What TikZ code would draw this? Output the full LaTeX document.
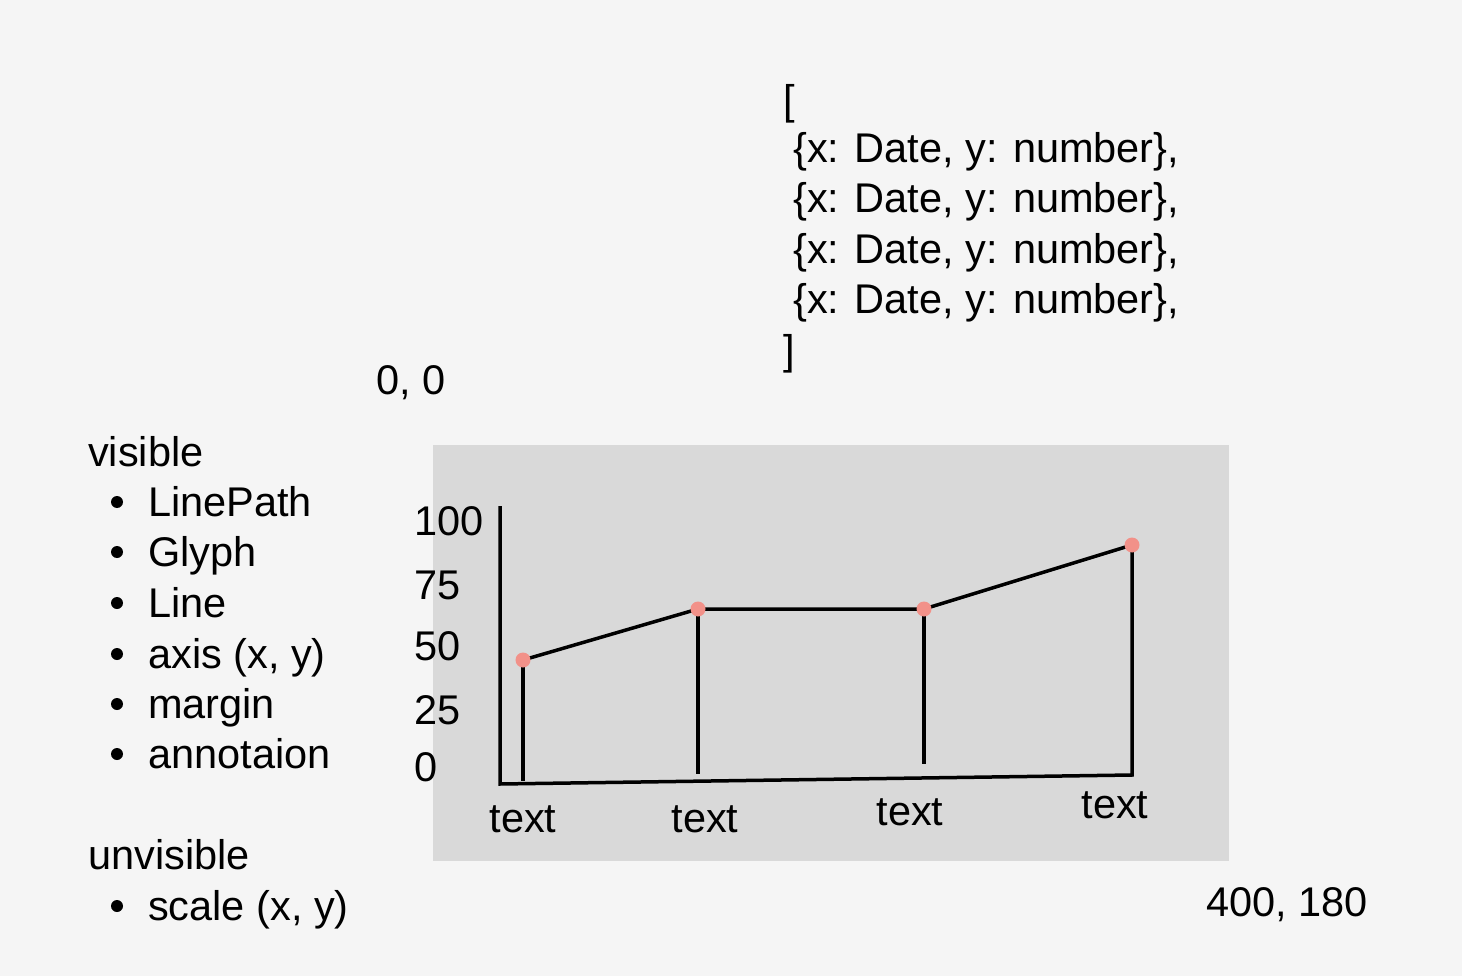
\documentclass[tikz,border=0pt]{standalone}
\usepackage{fontspec}
\setmainfont{Liberation Sans}
\usetikzlibrary{positioning}
\definecolor{PageGrey}{HTML}{F5F5F5}
\definecolor{PlotGrey}{HTML}{D9D9D9}
\definecolor{DotPink}{HTML}{F29189}

\begin{document}
\begin{tikzpicture}[x=1pt,y=-1pt,
  lbl/.style={inner sep=0pt,font=\fontsize{41.5}{48}\selectfont,text height=29pt,text depth=0pt},
  item/.style={lbl,anchor=west},
  bul/.style={circle,fill=black,inner sep=0pt,minimum size=12pt},
  dot/.style={circle,fill=DotPink,inner sep=0pt,minimum size=15pt},
  ink/.style={black,line width=3.5pt}]
  \fill[PageGrey] (0,0) rectangle (1462,976);
  \useasboundingbox (0,0) rectangle (1462,976);
  % plot area
  \fill[PlotGrey] (433,445) rectangle (1229,861);
  \node[lbl] (origin) at (411,380) {0, 0};
  \node[lbl] (corner) at (1287,902) {400, 180};
  % data
  \node[item] (open) at (783,100) {[};
  \foreach \r/\yy in {r1/148,r2/198,r3/249,r4/299}{
    \node[item] (\r) at (793,\yy) {\{x: Date, y: number\},};}
  \node[item] (close) at (783,350) {]};
  % legend
  \node[item] (vis) at (88,452) {visible};
  \foreach \i/\yy/\t in {a/502/LinePath,b/552/Glyph,c/603/Line,d/654/{axis (x, y)},e/704/margin,f/754/annotaion}{
    \node[item] (\i) at (148,\yy) {\t};
    \node[bul] (b\i) at (117,\yy) {};}
  \node[item] (unvis) at (88,855) {unvisible};
  \node[item] (g) at (148,906) {scale (x, y)};
  \node[bul] (bg) at (117,906) {};
  % axes
  \coordinate (o) at (500,784);
  \coordinate (ytop) at (500,506);
  \coordinate (xend) at (1132,775);
  \coordinate (p1) at (523,660);
  \coordinate (p2) at (698,609);
  \coordinate (p3) at (924,609);
  \coordinate (p4) at (1132,545);
  \coordinate (q1) at (523,781);
  \coordinate (q2) at (698,774);
  \coordinate (q3) at (924,764);
  \draw[ink] (ytop) -- (o) -- (xend) -- (p4);
  \foreach \n in {1,2,3}{\draw[ink] (p\n) -- (q\n);}
  \draw[ink] (p1) -- (p2) -- (p3) -- (p4);
  \foreach \n in {1,2,3,4}{\node[dot] (d\n) at (p\n) {};}
  % ticks
  \foreach \t/\yy in {100/521,75/585,50/646,25/710,0/767}{
    \node[item] (y\t) at (414,\yy) {\t};}
  \node[lbl] (t1) at (523,818) {text};
  \node[lbl] (t2) at (705,818) {text};
  \node[lbl] (t3) at (910,811) {text};
  \node[lbl] (t4) at (1115,804) {text};
\end{tikzpicture}
\end{document}
